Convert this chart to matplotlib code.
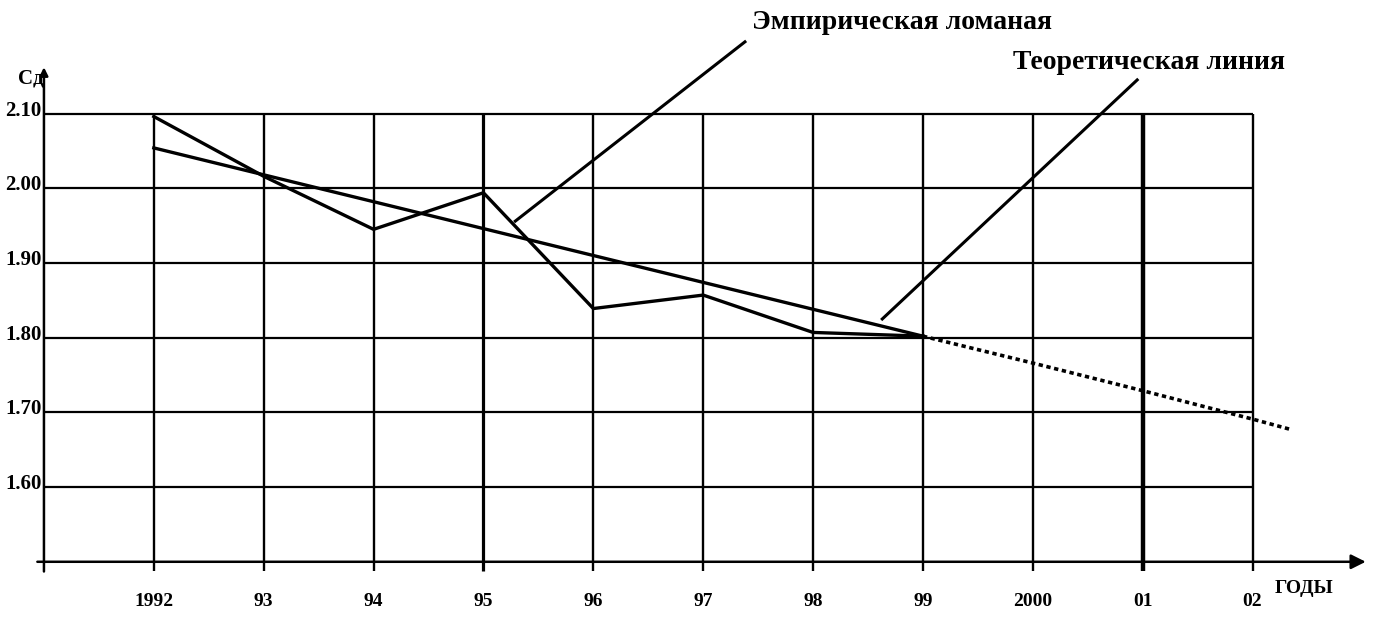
import matplotlib
matplotlib.use('Agg')
import matplotlib.pyplot as plt

# data
years = [1992, 1993, 1994, 1995, 1996, 1997, 1998, 1999]
empirical = [2.096, 2.016, 1.945, 1.994, 1.839, 1.857, 1.807, 1.802]
theoretical = [2.054, 2.018, 1.982, 1.946, 1.910, 1.874, 1.838, 1.802]
fc_years = [1999, 2000, 2001, 2002, 2002.35]
forecast = [1.802, 1.766, 1.729, 1.691, 1.677]

grid_years = [1992, 1993, 1994, 1995, 1996, 1997, 1998, 1999, 2000, 2001, 2002]
year_labels = ['1992', '93', '94', '95', '96', '97', '98', '99', '2000', '01', '02']
levels = [1.60, 1.70, 1.80, 1.90, 2.00, 2.10]
level_labels = ['1.60', '1.70', '1.80', '1.90', '2.00', '2.10']

plt.rcParams['font.family'] = ['Liberation Serif', 'DejaVu Serif']

fig = plt.figure(figsize=(13.8, 6.32), dpi=100)
ax = fig.add_axes([0, 0, 1, 1])
ax.set_xlim(1990.60, 2003.16)
ax.set_ylim(1.406, 2.252)
ax.axis('off')

x0 = 1991.0   # y axis position
y0 = 1.50     # x axis position

# horizontal grid
for lv, lab in zip(levels, level_labels):
    ax.plot([x0, 2002], [lv, lv], color='black', lw=1.6, solid_capstyle='butt')
    ax.text(x0 - 0.02, lv + 0.004, lab, ha='right', va='center',
            fontsize=15, fontweight='bold')

# vertical grid
for yr, lab in zip(grid_years, year_labels):
    lw = 3.2 if yr == 2001 else (2.3 if yr == 1995 else 1.7)
    ax.plot([yr, yr], [2.10, y0 - 0.013], color='black', lw=lw, solid_capstyle='butt')
    ax.text(yr, y0 - 0.053, lab, ha='center', va='center',
            fontsize=14, fontweight='bold')

# axes with arrows
ax.annotate('', xy=(x0, 2.162), xytext=(x0, y0 - 0.013),
            arrowprops=dict(arrowstyle='-|>', color='black', lw=1.8,
                            mutation_scale=12, shrinkA=0, shrinkB=0))
ax.annotate('', xy=(2003.03, y0), xytext=(x0 - 0.06, y0),
            arrowprops=dict(arrowstyle='-|>', color='black', lw=1.8,
                            mutation_scale=22, shrinkA=0, shrinkB=0))
ax.text(x0 - 0.12, 2.147, 'Сд', ha='center', va='center', fontsize=15, fontweight='bold')
ax.text(2002.47, y0 - 0.036, 'ГОДЫ', ha='center', va='center', fontsize=14, fontweight='bold')

# series
ax.plot(years, empirical, color='black', lw=2.4, solid_joinstyle='miter')
ax.plot(years, theoretical, color='black', lw=2.4)
ax.plot(fc_years, forecast, color='black', lw=2.6, linestyle=(0, (1.2, 1.0)))

# leader lines and captions
ax.plot([1997.38, 1995.29], [2.196, 1.956], color='black', lw=2.2)
ax.text(1997.44, 2.222, 'Эмпирическая ломаная', ha='left', va='center',
        fontsize=20, fontweight='bold')
ax.plot([2000.95, 1998.63], [2.145, 1.825], color='black', lw=2.2)
ax.text(1999.82, 2.169, 'Теоретическая линия', ha='left', va='center',
        fontsize=20, fontweight='bold')

fig.savefig('out.png', dpi=100)
plt.close('all')
